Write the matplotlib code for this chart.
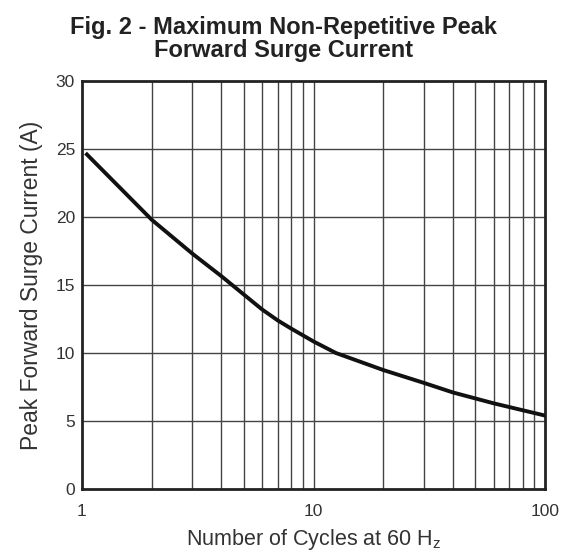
import numpy as np
import matplotlib.pyplot as plt

# values
cycles = [1.05, 2, 3, 4, 5, 6, 7, 8, 9, 10, 12.5, 20, 30, 40, 60, 100]
current = [24.6, 19.8, 17.3, 15.65, 14.3, 13.2, 12.4, 11.8, 11.3, 10.85, 10.0, 8.75, 7.8, 7.1, 6.3, 5.4]

y_ticks = [0, 5, 10, 15, 20, 25, 30]
x_ticks = [1, 10, 100]
x_labels = ['1', '10', '100']

plt.rcParams['font.family'] = ['Liberation Sans', 'DejaVu Sans']

fig = plt.figure(figsize=(5.64, 5.57), dpi=100)
ax = fig.add_axes([82 / 564, 1 - 489 / 557, 463 / 564, 408 / 557])

ax.set_xscale('log')
ax.set_xlim(1, 100)
ax.set_ylim(0, 30)

# grid: every integer cycle, every 5 A
minor = [k * d for d in (1, 10) for k in range(2, 10)] + [10]
for xv in minor:
    ax.axvline(xv, color='#444444', lw=1.0, zorder=1)
for yv in y_ticks[1:-1]:
    ax.axhline(yv, color='#444444', lw=1.0, zorder=1)

ax.plot(cycles, current, color='#111111', lw=2.8, zorder=3)

ax.set_xticks(x_ticks)
ax.set_xticklabels(x_labels)
ax.xaxis.set_minor_locator(plt.NullLocator())
ax.set_yticks(y_ticks)
ax.tick_params(length=0, labelsize=12.5, labelcolor='#333333', pad=5)
ax.tick_params(axis='x', pad=11)

for s in ax.spines.values():
    s.set_linewidth(2.0)
    s.set_color('#222222')

ax.set_ylabel('Peak Forward Surge Current (A)', fontsize=16.5, color='#333333', labelpad=9)
# x label placed by its baseline, like the datasheet
fig.text(314 / 564, 1 - 545 / 557, 'Number of Cycles at 60 H$_{\\mathregular{z}}$',
         ha='center', va='baseline', fontsize=15.5, color='#333333')

fig.text(0.502, 0.972, 'Fig. 2 - Maximum Non-Repetitive Peak\nForward Surge Current',
         ha='center', va='top', fontsize=17, fontweight='bold', color='#222222', linespacing=1.02)

fig.savefig('out.png', dpi=100)
